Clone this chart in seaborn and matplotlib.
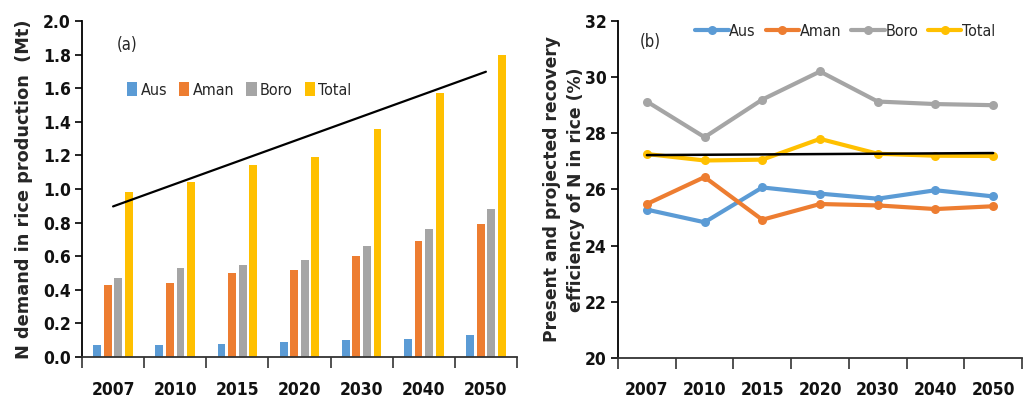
import numpy as np
import pandas as pd
import matplotlib.pyplot as plt
from matplotlib.ticker import FixedLocator, MultipleLocator, FormatStrFormatter
import seaborn as sns

# ── Data ──────────────────────────────────────────────────────────
years = ["2007", "2010", "2015", "2020", "2030", "2040", "2050"]
seasons = ["Aus", "Aman", "Boro", "Total"]

# (a) N demand in rice production (Mt)
demand_aus = [0.07, 0.07, 0.08, 0.09, 0.10, 0.11, 0.13]
demand_aman = [0.43, 0.44, 0.50, 0.52, 0.60, 0.69, 0.79]
demand_boro = [0.47, 0.53, 0.55, 0.58, 0.66, 0.76, 0.88]
demand_total = [0.98, 1.04, 1.14, 1.19, 1.36, 1.57, 1.80]

# (b) recovery efficiency of N in rice (%)
eff_aus = [25.28, 24.83, 26.07, 25.85, 25.67, 25.97, 25.75]
eff_aman = [25.48, 26.44, 24.92, 25.48, 25.43, 25.30, 25.40]
eff_boro = [29.13, 27.86, 29.20, 30.20, 29.13, 29.04, 29.00]
eff_total = [27.26, 27.03, 27.06, 27.80, 27.27, 27.20, 27.19]

colors = ["#5B9BD5", "#ED7D31", "#A5A5A5", "#FFC000"]

# ── Style ─────────────────────────────────────────────────────────
sns.set_theme(style="white")
plt.rcParams["font.family"] = ["DejaVu Sans"]
LEGEND_FONT = {"family": "DejaVu Sans", "stretch": "condensed", "size": 11.5}


def long_table(series):
    rows = []
    for name, vals in zip(seasons, series):
        for yr, v in zip(years, vals):
            rows.append({"year": yr, "season": name, "value": v})
    return pd.DataFrame(rows)


def style_axis(ax):
    sns.despine(ax=ax)
    ax.spines["left"].set_color("black")
    ax.spines["left"].set_linewidth(1.3)
    ax.spines["bottom"].set_color("#333333")
    ax.spines["bottom"].set_linewidth(1.3)
    ax.set_xlim(-0.5, 6.5)
    # category separators as minor ticks, labels centred under groups
    ax.xaxis.set_minor_locator(FixedLocator(np.arange(-0.5, 7, 1)))
    ax.tick_params(axis="x", which="minor", bottom=True, direction="out",
                   length=8, width=1.2, color="#333333")
    ax.tick_params(axis="x", which="major", length=0, pad=17)
    ax.tick_params(axis="y", which="major", left=True, direction="out",
                   length=5, width=1.2, color="black", pad=3)
    for lab in ax.get_xticklabels() + ax.get_yticklabels():
        lab.set_fontfamily("DejaVu Sans")
        lab.set_fontstretch("condensed")
        lab.set_fontweight("bold")
        lab.set_fontsize(12.5)
        lab.set_color("#111111")
    ax.set_xlabel("")


fig = plt.figure(figsize=(10.29, 4.03), dpi=100)
ax1 = fig.add_axes([0.0797, 0.114, 0.4227, 0.834])
ax2 = fig.add_axes([0.6006, 0.112, 0.3926, 0.836])

# ── (a) bars ──────────────────────────────────────────────────────
df_a = long_table([demand_aus, demand_aman, demand_boro, demand_total])
sns.barplot(data=df_a, x="year", y="value", hue="season", order=years,
            hue_order=seasons, palette=colors, width=0.68, gap=0.25,
            saturation=1, linewidth=0, ax=ax1)
sns.regplot(x=np.arange(len(years)), y=demand_total, scatter=False, ci=None,
            truncate=True, color="black", line_kws={"lw": 1.6}, ax=ax1)
ax1.set_ylim(0, 2.0)
ax1.yaxis.set_major_locator(MultipleLocator(0.2))
ax1.yaxis.set_major_formatter(FormatStrFormatter("%.1f"))
ax1.set_ylabel("N demand in rice production  (Mt)", fontsize=12.8,
               fontweight="bold", labelpad=7)
style_axis(ax1)
h, l = ax1.get_legend_handles_labels()
ax1.legend(h, l, loc="upper left", bbox_to_anchor=(0.07, 0.86), ncol=4,
           frameon=False, handlelength=0.65, handleheight=0.9,
           handletextpad=0.2, columnspacing=0.75, prop=LEGEND_FONT)
ax1.text(0.08, 0.955, "(a)", transform=ax1.transAxes, ha="left", va="top",
         fontsize=12, fontstretch="condensed")

# ── (b) lines ─────────────────────────────────────────────────────
df_b = long_table([eff_aus, eff_aman, eff_boro, eff_total])
sns.lineplot(data=df_b, x="year", y="value", hue="season", style="season",
             hue_order=seasons, palette=colors, markers=["o"] * 4,
             dashes=False, sort=False, lw=3.0, markersize=6.5,
             markeredgewidth=0, ax=ax2)
sns.regplot(x=np.arange(len(years)), y=eff_total, scatter=False, ci=None,
            truncate=True, color="black", line_kws={"lw": 1.8}, ax=ax2)
ax2.set_ylim(20, 32)
ax2.yaxis.set_major_locator(MultipleLocator(2))
ax2.set_ylabel("Present and projected recovery\nefficiency of N in rice (%)",
               fontsize=12.3, fontweight="bold", labelpad=0,
               linespacing=1.45)
style_axis(ax2)
h, l = ax2.get_legend_handles_labels()
ax2.legend(h, l, loc="upper left", bbox_to_anchor=(0.155, 1.035), ncol=4,
           frameon=False, handlelength=2.1, handletextpad=0.05,
           columnspacing=0.6, prop=LEGEND_FONT)
ax2.text(0.055, 0.965, "(b)", transform=ax2.transAxes, ha="left", va="top",
         fontsize=12, fontstretch="condensed")

fig.savefig("out.png", dpi=100)
